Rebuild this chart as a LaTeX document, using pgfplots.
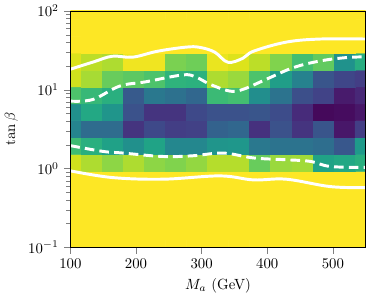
\documentclass[border=0pt]{standalone}
\usepackage{pgfplots}
\pgfplotsset{compat=1.18}
\begin{document}
\begin{tikzpicture}
\begin{axis}[
  scale only axis, width=200pt, height=160pt,
  xmin=100, xmax=550, ymin=0.1, ymax=100, ymode=log,
  xtick={100,200,300,400,500},
  ytick={0.1,1,10,100},
  tick align=outside, xtick pos=left, ytick pos=left,
  colormap/viridis, point meta min=0, point meta max=1,
  xlabel={$M_a$ (GeV)}, ylabel={$\tan\beta$},
  axis on top,
]
\addplot[matrix plot*, mesh/cols=15, point meta=explicit] coordinates {
(100,0.1)[1] (132.14,0.1)[1] (164.29,0.1)[1] (196.43,0.1)[1] (228.57,0.1)[1] (260.71,0.1)[1] (292.86,0.1)[1] (325,0.1)[1] (357.14,0.1)[1] (389.29,0.1)[1] (421.43,0.1)[1] (453.57,0.1)[1] (485.71,0.1)[1] (517.86,0.1)[1] (550,0.1)[1]

(100,0.16379)[1] (132.14,0.16379)[1] (164.29,0.16379)[1] (196.43,0.16379)[1] (228.57,0.16379)[1] (260.71,0.16379)[1] (292.86,0.16379)[1] (325,0.16379)[1] (357.14,0.16379)[1] (389.29,0.16379)[1] (421.43,0.16379)[1] (453.57,0.16379)[1] (485.71,0.16379)[1] (517.86,0.16379)[1] (550,0.16379)[1]

(100,0.26827)[1] (132.14,0.26827)[1] (164.29,0.26827)[1] (196.43,0.26827)[1] (228.57,0.26827)[1] (260.71,0.26827)[1] (292.86,0.26827)[1] (325,0.26827)[1] (357.14,0.26827)[1] (389.29,0.26827)[1] (421.43,0.26827)[1] (453.57,0.26827)[1] (485.71,0.26827)[1] (517.86,0.26827)[1] (550,0.26827)[1]

(100,0.4394)[1] (132.14,0.4394)[1] (164.29,0.4394)[1] (196.43,0.4394)[1] (228.57,0.4394)[1] (260.71,0.4394)[1] (292.86,0.4394)[1] (325,0.4394)[1] (357.14,0.4394)[1] (389.29,0.4394)[1] (421.43,0.4394)[1] (453.57,0.4394)[1] (485.71,0.4394)[1] (517.86,0.4394)[1] (550,0.4394)[1]

(100,0.71969)[1] (132.14,0.71969)[1] (164.29,0.71969)[1] (196.43,0.71969)[1] (228.57,0.71969)[1] (260.71,0.71969)[1] (292.86,0.71969)[1] (325,0.71969)[1] (357.14,0.71969)[1] (389.29,0.71969)[1] (421.43,0.71969)[1] (453.57,0.71969)[1] (485.71,0.71969)[1] (517.86,0.71969)[1] (550,0.71969)[1]

(100,1.1788)[0.93] (132.14,1.1788)[0.88] (164.29,1.1788)[0.83] (196.43,1.1788)[0.88] (228.57,1.1788)[0.83] (260.71,1.1788)[0.81] (292.86,1.1788)[0.84] (325,1.1788)[0.89] (357.14,1.1788)[0.89] (389.29,1.1788)[0.77] (421.43,1.1788)[0.85] (453.57,1.1788)[0.86] (485.71,1.1788)[0.58] (517.86,1.1788)[0.60] (550,1.1788)[0.63]

(100,1.9307)[0.69] (132.14,1.9307)[0.63] (164.29,1.9307)[0.57] (196.43,1.9307)[0.50] (228.57,1.9307)[0.58] (260.71,1.9307)[0.46] (292.86,1.9307)[0.46] (325,1.9307)[0.52] (357.14,1.9307)[0.53] (389.29,1.9307)[0.40] (421.43,1.9307)[0.38] (453.57,1.9307)[0.38] (485.71,1.9307)[0.36] (517.86,1.9307)[0.27] (550,1.9307)[0.54]

(100,3.1623)[0.45] (132.14,3.1623)[0.35] (164.29,3.1623)[0.35] (196.43,3.1623)[0.15] (228.57,3.1623)[0.22] (260.71,3.1623)[0.18] (292.86,3.1623)[0.19] (325,3.1623)[0.31] (357.14,3.1623)[0.33] (389.29,3.1623)[0.14] (421.43,3.1623)[0.25] (453.57,3.1623)[0.15] (485.71,3.1623)[0.26] (517.86,3.1623)[0.06] (550,3.1623)[0.18]

(100,5.1795)[0.50] (132.14,5.1795)[0.60] (164.29,5.1795)[0.52] (196.43,5.1795)[0.25] (228.57,5.1795)[0.15] (260.71,5.1795)[0.15] (292.86,5.1795)[0.22] (325,5.1795)[0.25] (357.14,5.1795)[0.25] (389.29,5.1795)[0.26] (421.43,5.1795)[0.23] (453.57,5.1795)[0.12] (485.71,5.1795)[0.02] (517.86,5.1795)[0.03] (550,5.1795)[0.06]

(100,8.4834)[0.72] (132.14,8.4834)[0.67] (164.29,8.4834)[0.63] (196.43,8.4834)[0.28] (228.57,8.4834)[0.40] (260.71,8.4834)[0.37] (292.86,8.4834)[0.33] (325,8.4834)[0.68] (357.14,8.4834)[0.70] (389.29,8.4834)[0.49] (421.43,8.4834)[0.38] (453.57,8.4834)[0.24] (485.71,8.4834)[0.20] (517.86,8.4834)[0.07] (550,8.4834)[0.11]

(100,13.895)[0.93] (132.14,13.895)[0.87] (164.29,13.895)[0.77] (196.43,13.895)[0.75] (228.57,13.895)[0.72] (260.71,13.895)[0.65] (292.86,13.895)[0.64] (325,13.895)[0.88] (357.14,13.895)[0.85] (389.29,13.895)[0.72] (421.43,13.895)[0.56] (453.57,13.895)[0.44] (485.71,13.895)[0.26] (517.86,13.895)[0.21] (550,13.895)[0.18]

(100,22.758)[0.95] (132.14,22.758)[0.90] (164.29,22.758)[0.88] (196.43,22.758)[0.98] (228.57,22.758)[0.98] (260.71,22.758)[0.80] (292.86,22.758)[0.78] (325,22.758)[0.97] (357.14,22.758)[0.95] (389.29,22.758)[0.90] (421.43,22.758)[0.81] (453.57,22.758)[0.70] (485.71,22.758)[0.76] (517.86,22.758)[0.51] (550,22.758)[0.62]

(100,37.276)[1] (132.14,37.276)[1] (164.29,37.276)[1] (196.43,37.276)[1] (228.57,37.276)[1] (260.71,37.276)[1] (292.86,37.276)[1] (325,37.276)[1] (357.14,37.276)[1] (389.29,37.276)[1] (421.43,37.276)[1] (453.57,37.276)[1] (485.71,37.276)[1] (517.86,37.276)[1] (550,37.276)[1]

(100,61.054)[1] (132.14,61.054)[1] (164.29,61.054)[1] (196.43,61.054)[1] (228.57,61.054)[1] (260.71,61.054)[1] (292.86,61.054)[1] (325,61.054)[1] (357.14,61.054)[1] (389.29,61.054)[1] (421.43,61.054)[1] (453.57,61.054)[1] (485.71,61.054)[1] (517.86,61.054)[1] (550,61.054)[1]

(100,100)[1] (132.14,100)[1] (164.29,100)[1] (196.43,100)[1] (228.57,100)[1] (260.71,100)[1] (292.86,100)[1] (325,100)[1] (357.14,100)[1] (389.29,100)[1] (421.43,100)[1] (453.57,100)[1] (485.71,100)[1] (517.86,100)[1] (550,100)[1]
};
% solid upper contour
\addplot[white, line width=2pt, smooth, tension=0.6] coordinates {
(100,18.2) (135,22.5) (164,26.6) (195,25.9) (233,30.8) (276,34.7) (297,34.5) (320,30.0) (340,22.3) (363,25.1) (379,30.8) (429,40.2) (481,44.0) (550,44.0)};
% dashed upper contour
\addplot[white, line width=2pt, smooth, tension=0.6, dash pattern=on 6.5pt off 3.5pt] coordinates {
(100,7.16) (134,7.5) (175,11.1) (215,12.6) (271,15.4) (291,14.5) (313,11.7) (343,9.6) (363,10.1) (398,13.5) (440,19.1) (481,23.2) (521,25.6) (550,26.1)};
% dashed lower contour
\addplot[white, line width=2pt, smooth, tension=0.6, dash pattern=on 6.5pt off 3.5pt] coordinates {
(100,1.95) (149,1.65) (180,1.57) (241,1.42) (287,1.45) (333,1.57) (379,1.36) (429,1.29) (466,1.23) (496,1.06) (550,1.03)};
% solid lower contour
\addplot[white, line width=2pt, smooth, tension=0.6] coordinates {
(100,0.933) (164,0.767) (241,0.731) (328,0.805) (379,0.716) (429,0.731) (496,0.589) (550,0.571)};
\end{axis}
\end{tikzpicture}
\end{document}
